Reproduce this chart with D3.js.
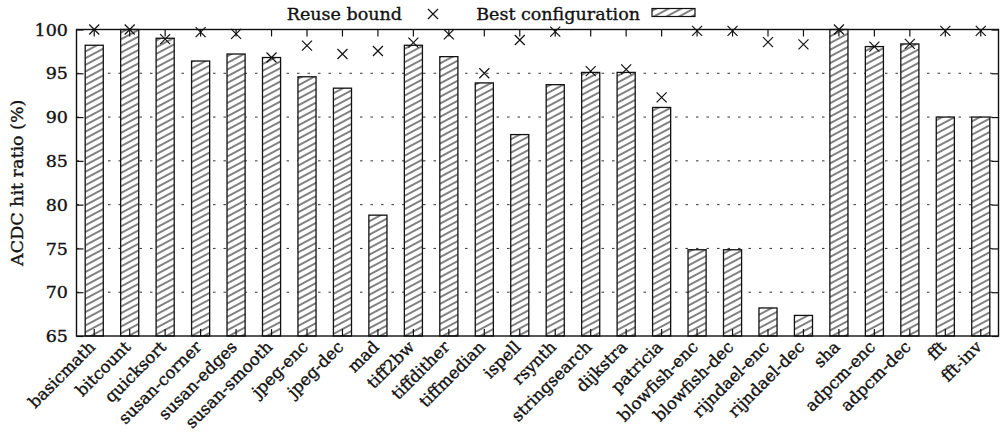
<!DOCTYPE html>
<html>
<head>
<meta charset="utf-8">
<script src="https://cdn.jsdelivr.net/npm/d3@7"></script>
<style>
  html, body { margin: 0; padding: 0; background: #fff; }
  svg { display: block; }
  text { font-family: "DejaVu Serif", "Liberation Serif", serif; fill: #111; stroke: #111; stroke-width: 0.35px; }
</style>
</head>
<body>
<svg id="chart" width="1000" height="433"></svg>
<script>
// Benchmarks on the x axis
const categories = [
  "basicmath", "bitcount", "quicksort", "susan-corner", "susan-edges",
  "susan-smooth", "jpeg-enc", "jpeg-dec", "mad", "tiff2bw", "tiffdither",
  "tiffmedian", "ispell", "rsynth", "stringsearch", "dijkstra", "patricia",
  "blowfish-enc", "blowfish-dec", "rijndael-enc", "rijndael-dec", "sha",
  "adpcm-enc", "adpcm-dec", "fft", "fft-inv"
];

// ACDC hit ratio (%) of the best configuration (bars)
const bestConfig = [
  98.2, 100.0, 99.0, 96.4, 97.2, 96.8, 94.6, 93.3, 78.8, 98.2, 96.9,
  93.9, 88.0, 93.7, 95.1, 95.1, 91.1, 74.85, 74.85, 68.2, 67.35, 100.0,
  98.05, 98.35, 90.0, 90.0
];

// Reuse bound (%) (x markers)
const reuseBound = [
  100.0, 100.0, 98.9, 99.7, 99.5, 96.8, 98.15, 97.2, 97.55, 98.5, 99.45,
  95.0, 98.8, 99.75, 95.25, 95.45, 92.25, 99.85, 99.85, 98.55, 98.3, 100.0,
  98.05, 98.35, 99.85, 99.85
];

const yTicks = [65, 70, 75, 80, 85, 90, 95, 100];
const gridValues = [70, 75, 80, 85, 90, 95];

const svg = d3.select("#chart");
const plotLeft = 76.5, plotRight = 998.5, plotTop = 29.5, plotBottom = 336;

const x = d3.scaleBand()
  .domain(categories)
  .range([plotLeft, plotRight])
  .paddingInner(0.49)
  .paddingOuter(0.245);

const y = d3.scaleLinear().domain([65, 100]).range([plotBottom, plotTop]);

const center = c => x(c) + x.bandwidth() / 2;

// Diagonal hatching for the bars
const defs = svg.append("defs");
const pat = defs.append("pattern")
  .attr("id", "hatch")
  .attr("patternUnits", "userSpaceOnUse")
  .attr("width", 10)
  .attr("height", 5.9)
  .attr("patternTransform", "rotate(-28)");
pat.append("rect").attr("width", 10).attr("height", 5.9).attr("fill", "#fff");
pat.append("line")
  .attr("x1", 0).attr("x2", 10)
  .attr("y1", 2.95).attr("y2", 2.95)
  .attr("stroke", "#111").attr("stroke-width", 1.05);

// Dotted horizontal grid
svg.append("g")
  .selectAll("line")
  .data(gridValues)
  .join("line")
  .attr("x1", plotLeft).attr("x2", plotRight)
  .attr("y1", d => y(d)).attr("y2", d => y(d))
  .attr("stroke", "#333")
  .attr("stroke-width", 1)
  .attr("stroke-dasharray", "2.5,8");

// Bars
svg.append("g")
  .selectAll("rect")
  .data(categories)
  .join("rect")
  .attr("x", d => x(d))
  .attr("width", x.bandwidth())
  .attr("y", (d, i) => y(bestConfig[i]))
  .attr("height", (d, i) => y(65) - y(bestConfig[i]))
  .attr("fill", "url(#hatch)")
  .attr("stroke", "#111")
  .attr("stroke-width", 1.3);

// Left axis with tick labels, mirror ticks on the right
const yAxis = d3.axisLeft(y).tickValues(yTicks).tickSize(-7).tickPadding(8);
const yg = svg.append("g").attr("transform", `translate(${plotLeft},0)`).call(yAxis);
yg.select(".domain").remove();
yg.selectAll(".tick line").attr("stroke", "#111").attr("stroke-width", 1.2);
yg.selectAll(".tick text")
  .attr("x", -8.5)
  .style("font-size", "17.5px")
  .style("font-family", '"DejaVu Serif", serif')
  .attr("fill", "#111");

const yr = svg.append("g").attr("transform", `translate(${plotRight},0)`)
  .call(d3.axisRight(y).tickValues(yTicks).tickSize(-7).tickFormat(""));
yr.select(".domain").remove();
yr.selectAll(".tick line").attr("stroke", "#111").attr("stroke-width", 1.2);

// Category ticks on top and bottom
const xt = svg.append("g").attr("transform", `translate(0,${plotTop})`)
  .call(d3.axisTop(x).tickSize(-7).tickFormat(""));
xt.select(".domain").remove();
xt.selectAll(".tick line").attr("stroke", "#111").attr("stroke-width", 1.2);

const xb = svg.append("g").attr("transform", `translate(0,${plotBottom})`)
  .call(d3.axisBottom(x).tickSize(-7).tickFormat(""));
xb.select(".domain").remove();
xb.selectAll(".tick line").attr("stroke", "#111").attr("stroke-width", 1.2);

// Rotated category labels
svg.append("g")
  .selectAll("text")
  .data(categories)
  .join("text")
  .attr("transform", d => `translate(${center(d) + 2},${plotBottom + 12}) rotate(-45)`)
  .attr("text-anchor", "end")
  .style("font-size", "16.5px")
  .text(d => d);

// Plot frame
svg.append("rect")
  .attr("x", plotLeft).attr("y", plotTop)
  .attr("width", plotRight - plotLeft).attr("height", plotBottom - plotTop)
  .attr("fill", "none")
  .attr("stroke", "#111")
  .attr("stroke-width", 1.4);

// Cross marker
const crossSymbol = {
  draw(ctx, size) {
    const r = Math.sqrt(size) / 2;
    ctx.moveTo(-r, -r); ctx.lineTo(r, r);
    ctx.moveTo(-r, r); ctx.lineTo(r, -r);
  }
};
const cross = d3.symbol().type(crossSymbol).size(100);

svg.append("g")
  .selectAll("path")
  .data(categories)
  .join("path")
  .attr("transform", (d, i) => `translate(${center(d)},${y(reuseBound[i])})`)
  .attr("d", cross)
  .attr("fill", "none")
  .attr("stroke", "#111")
  .attr("stroke-width", 1.2);

// Y axis title
svg.append("text")
  .attr("transform", `translate(23,${(plotTop + plotBottom) / 2}) rotate(-90)`)
  .attr("text-anchor", "middle")
  .style("font-size", "17.5px")
  .text("ACDC hit ratio (%)");

// Legend
const legend = svg.append("g");
legend.append("text")
  .attr("x", 402).attr("y", 20)
  .attr("text-anchor", "end")
  .style("font-size", "17.5px")
  .text("Reuse bound");
legend.append("path")
  .attr("transform", "translate(433,14)")
  .attr("d", cross)
  .attr("fill", "none")
  .attr("stroke", "#111")
  .attr("stroke-width", 1.2);
legend.append("text")
  .attr("x", 640).attr("y", 20)
  .attr("text-anchor", "end")
  .style("font-size", "17.5px")
  .text("Best configuration");
legend.append("rect")
  .attr("x", 652).attr("y", 8.5)
  .attr("width", 43).attr("height", 8)
  .attr("fill", "url(#hatch)")
  .attr("stroke", "#111")
  .attr("stroke-width", 1.2);
</script>
</body>
</html>
